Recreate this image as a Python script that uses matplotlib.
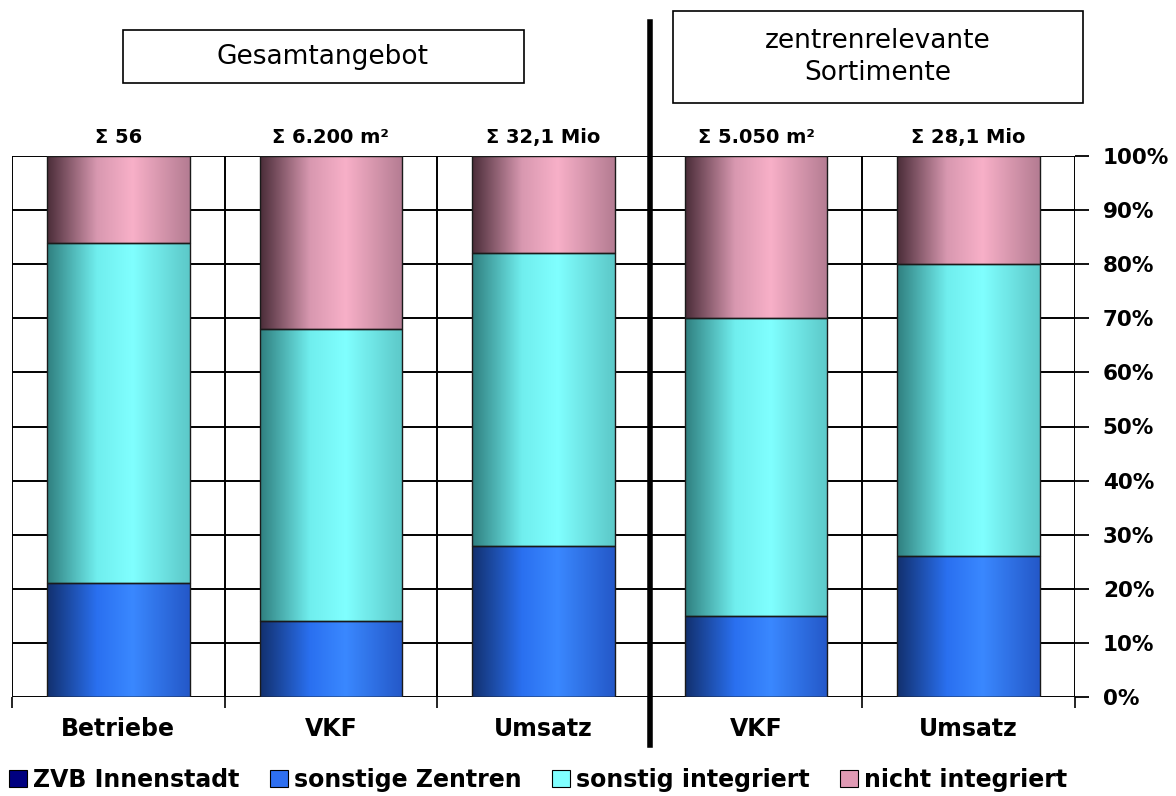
import matplotlib.pyplot as plt
import numpy as np
from matplotlib.colors import LinearSegmentedColormap
from matplotlib.patches import Rectangle

categories = ["Betriebe", "VKF", "Umsatz", "VKF", "Umsatz"]
totals = ["Σ 56", "Σ 6.200 m²", "Σ 32,1 Mio", "Σ 5.050 m²", "Σ 28,1 Mio"]
series_names = ["ZVB Innenstadt", "sonstige Zentren", "sonstig integriert", "nicht integriert"]
zvb_innenstadt = [0, 0, 0, 0, 0]
sonstige_zentren = [21, 14, 28, 15, 26]
sonstig_integriert = [63, 54, 54, 55, 54]
nicht_integriert = [16, 32, 18, 30, 20]

legend_colors = ["#000080", "#2e6ff0", "#80ffff", "#e09ab4"]
# horizontal shading per series: dark left edge, bright highlight, slightly darker right edge
shades = [
    ["#000030", "#000080", "#1010a0", "#000070"],
    ["#12306e", "#2a70f0", "#3a88ff", "#2458c8"],
    ["#2f7f7f", "#70eeee", "#80ffff", "#5cc8c8"],
    ["#4a2c38", "#d898b0", "#f8b0c8", "#b47c92"],
]
stops = [0.0, 0.35, 0.6, 1.0]

plt.rcParams["font.family"] = ["DejaVu Sans"]
fig = plt.figure(figsize=(11.76, 7.96), dpi=100)
ax = fig.add_axes([12 / 1176, 99 / 796, 1063 / 1176, 541 / 796])

x = np.arange(len(categories))
width = 0.67
data = [zvb_innenstadt, sonstige_zentren, sonstig_integriert, nicht_integriert]
bottom = np.zeros(len(categories))
grad = np.linspace(0, 1, 256).reshape(1, -1)
for vals, shade in zip(data, shades):
    vals = np.array(vals, dtype=float)
    cmap = LinearSegmentedColormap.from_list("s", list(zip(stops, shade)))
    bars = ax.bar(x, vals, width, bottom=bottom, facecolor="none",
                  edgecolor="#1a1a1a", linewidth=1.0, zorder=4)
    for b in bars:
        if b.get_height() <= 0:
            continue
        x0, y0 = b.get_x(), b.get_y()
        ax.imshow(grad, cmap=cmap, aspect="auto", zorder=3,
                  extent=(x0, x0 + b.get_width(), y0, y0 + b.get_height()))
    bottom += vals

ax.set_xlim(-0.5, len(categories) - 0.5)
ax.set_ylim(0, 100)

# grid: horizontal every 10 %, vertical at category boundaries
for y in range(0, 101, 10):
    ax.axhline(y, color="black", linewidth=1.4, zorder=1)
for xb in np.arange(-0.5, len(categories), 1.0):
    ax.axvline(xb, color="black", linewidth=1.4, zorder=1)

for s in ax.spines.values():
    s.set_visible(False)

ax.yaxis.tick_right()
ax.set_yticks(range(0, 101, 10))
ax.set_yticklabels([f"{v}%" for v in range(0, 101, 10)], fontsize=15.5,
                   fontweight="bold")
ax.tick_params(axis="y", length=10, width=1.3, pad=10, direction="out")
ax.set_xticks(np.arange(-0.5, len(categories), 1.0))
ax.set_xticklabels([])
ax.tick_params(axis="x", length=8, width=1.2, direction="out")

for i, (cat, tot) in enumerate(zip(categories, totals)):
    ax.text(i, -6, cat, ha="center", va="center", fontsize=17,
            fontweight="bold", clip_on=False)
    ax.text(i, 103.5, tot, ha="center", va="center", fontsize=14,
            fontweight="bold", clip_on=False)

# divider between the two groups
fig.add_artist(plt.Line2D([650 / 1176, 650 / 1176], [1 - 22 / 796, 1 - 745 / 796],
                          color="black", linewidth=4))

# group title boxes
fig.add_artist(Rectangle((123 / 1176, 1 - 83 / 796), 401 / 1176, 53 / 796,
                         fill=False, edgecolor="black", linewidth=1.2))
fig.text(323 / 1176, 1 - 57 / 796, "Gesamtangebot", ha="center", va="center",
         fontsize=19)
fig.add_artist(Rectangle((673 / 1176, 1 - 103 / 796), 410 / 1176, 92 / 796,
                         fill=False, edgecolor="black", linewidth=1.2))
fig.text(878 / 1176, 1 - 57 / 796, "zentrenrelevante\nSortimente", ha="center",
         va="center", fontsize=19, linespacing=1.3)

handles = [Rectangle((0, 0), 1, 1, facecolor=c, edgecolor="black", linewidth=0.8)
           for c in legend_colors]
fig.legend(handles, series_names, loc="center left", bbox_to_anchor=(0.0, 1 - 780 / 796),
           ncol=4, frameon=False, handlelength=0.75, handleheight=0.75,
           handletextpad=0.25, columnspacing=1.3, borderaxespad=0,
           prop={"size": 17, "weight": "bold"})

fig.savefig("out.png", dpi=100)
